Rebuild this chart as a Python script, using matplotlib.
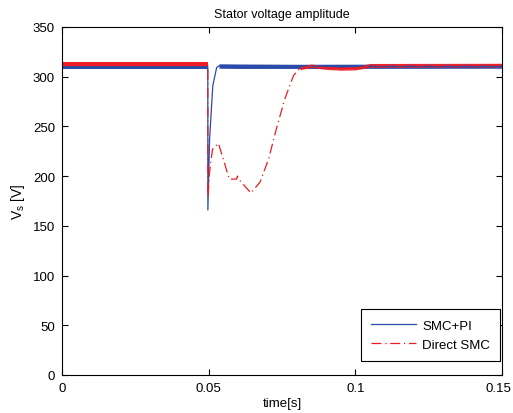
import matplotlib
matplotlib.use("Agg")
import matplotlib.pyplot as plt
import matplotlib.transforms as mtransforms

plt.rcParams['font.family'] = ['Liberation Sans', 'DejaVu Sans']

# SMC+PI mean curve
t_blue = [0, 0.0497, 0.04972, 0.0503, 0.0514, 0.0527, 0.0535, 0.06, 0.08, 0.1, 0.15]
v_blue = [310, 310, 166, 237, 291, 309, 311, 310.5, 310.5, 310.5, 310.5]
# SMC+PI ripple envelope (steady parts)
blue_band1_t = [0, 0.0497]
blue_band1_lo = [307.5, 307.5]
blue_band1_hi = [311.5, 311.5]
blue_band2_t = [0.0535, 0.06, 0.08, 0.15]
blue_band2_lo = [308.5, 308.3, 308.3, 308.5]
blue_band2_hi = [313.0, 312.8, 312.5, 312.8]

# Direct SMC mean curve
t_red = [0, 0.0497, 0.04975, 0.0503, 0.0513, 0.0533, 0.055, 0.057, 0.0595, 0.0598,
         0.0605, 0.0644, 0.0675, 0.0704, 0.0732, 0.076, 0.0789, 0.080, 0.0811,
         0.085, 0.09, 0.095, 0.1, 0.105, 0.15]
v_red = [311.5, 311.5, 178, 204, 227, 233, 217, 197, 197, 200,
         196, 183, 194, 217, 249, 278, 301, 305, 308.5,
         311, 309, 308, 308.5, 311, 311.5]
# Direct SMC ripple envelope (steady parts)
red_band1_t = [0, 0.0497]
red_band1_lo = [309.3, 309.3]
red_band1_hi = [314.3, 314.3]
red_band2_t = [0.0811, 0.085, 0.09, 0.095, 0.1, 0.105, 0.15]
red_band2_lo = [307.0, 309.3, 307.3, 306.5, 306.8, 309.5, 309.8]
red_band2_hi = [310.3, 312.8, 310.5, 309.8, 310.3, 313.3, 313.5]

x_ticks = [0, 0.05, 0.1, 0.15]
x_tick_labels = ['0', '0.05', '0.1', '0.15']
y_ticks = [0, 50, 100, 150, 200, 250, 300, 350]

blue = '#2a4ca8'
red = '#ee1c24'

fig = plt.figure(figsize=(5.13, 4.14), dpi=100)
ax = fig.add_axes([0.1209, 0.0918, 0.8577, 0.8406])

ax.fill_between(blue_band1_t, blue_band1_lo, blue_band1_hi, color=blue, lw=0)
ax.fill_between(blue_band2_t, blue_band2_lo, blue_band2_hi, color=blue, lw=0)
ax.plot(t_blue, v_blue, color=blue, lw=0.9, label='SMC+PI')

ax.fill_between(red_band1_t, red_band1_lo, red_band1_hi, color=red, lw=0)
ax.fill_between(red_band2_t, red_band2_lo, red_band2_hi, color=red, lw=0, alpha=0.9)
ax.plot(t_red, v_red, color=red, lw=0.9, ls=(0, (8, 3, 1, 3)), label='Direct SMC')

ax.set_xlim(0, 0.15)
ax.set_ylim(0, 350)
ax.set_xticks(x_ticks)
ax.set_xticklabels(x_tick_labels)
ax.set_yticks(y_ticks)
ax.tick_params(direction='in', top=True, right=True, labelsize=9.5, length=4, width=0.8, pad=5)
for s in ax.spines.values():
    s.set_linewidth(0.8)

# nudge the last x tick label slightly left so it stays inside the figure
last = ax.get_xticklabels()[-1]
last.set_transform(last.get_transform() + mtransforms.ScaledTranslation(-4 / 100, 0, fig.dpi_scale_trans))

ax.set_title('Stator voltage amplitude', fontsize=9, pad=7)
ax.set_xlabel('time[s]', fontsize=9.5, labelpad=2)
ax.set_ylabel('V$_\\mathregular{s}$ [V]', fontsize=10)

leg = ax.legend(loc='lower right', bbox_to_anchor=(0.9955, 0.0402), borderaxespad=0,
                fontsize=9.5, fancybox=False, framealpha=1, edgecolor='black',
                handlelength=3.4, handletextpad=0.5, labelspacing=0.55, borderpad=0.75)
leg.get_frame().set_linewidth(0.8)

fig.savefig('out.png', dpi=100)
